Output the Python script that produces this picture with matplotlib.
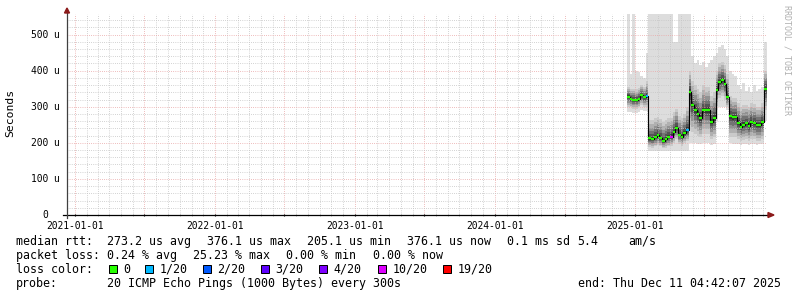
import matplotlib
matplotlib.use("Agg")
import matplotlib.pyplot as plt
import matplotlib.dates as mdates
import matplotlib.ticker as mticker
import matplotlib.transforms as mtransforms
from matplotlib.patches import Polygon, Rectangle
from datetime import datetime, timedelta

# time range of the graph (5 years ending at "end:")
start_time = datetime(2020, 12, 11, 4, 42, 7)
end_time = datetime(2025, 12, 11, 4, 42, 7)

# weekly consolidated samples, values in microseconds
first_sample = datetime(2024, 12, 11)
sample_dates = [first_sample + timedelta(days=7 * k) for k in range(53)]

median_us = [328, 322, 318, 318, 322, 332, 326, 330,
             212, 210, 216, 222, 214, 205, 210, 216, 217, 230, 241, 222, 217, 226, 236,
             342, 305, 291, 280, 268, 291, 291, 292, 258, 268,
             346, 369, 374, 362, 328,
             274, 271, 272, 256, 245, 250, 254, 248, 258, 255, 250, 249, 258, 350, 376]

# lost pings out of 20
loss_pings = [0, 0, 0, 0, 0, 0, 0, 1,
              0, 0, 0, 0, 0, 0, 0, 0, 10, 0, 0, 0, 0, 0, 1,
              0, 0, 0, 0, 0, 0, 0, 0, 0, 0,
              0, 0, 0, 0, 0,
              0, 0, 0, 0, 0, 0, 0, 0, 0, 0, 0, 0, 0, 0, 0]

# outer smoke (slowest / fastest ping)
smoke_hi = [600, 390, 600, 400, 395, 385, 380, 450,
            600, 600, 600, 600, 600, 600, 600, 600, 600, 480, 480, 600, 600, 600, 600,
            600, 440, 420, 430, 415, 425, 410, 420, 430, 440,
            450, 465, 470, 460, 440,
            400, 390, 385, 360, 350, 365, 345, 355, 340, 360, 345, 350, 355, 480, 510]
smoke_lo = [285, 285, 282, 282, 285, 290, 288, 288,
            178, 178, 178, 178, 178, 178, 178, 178, 178, 178, 178, 178, 178, 178, 178,
            200, 200, 200, 198, 196, 200, 200, 200, 195, 198,
            260, 300, 300, 300, 290,
            200, 198, 198, 196, 195, 196, 198, 195, 198, 198, 195, 196, 198, 260, 300]

# dense part of the smoke
band_hi = [355, 350, 350, 348, 352, 360, 356, 370,
           262, 262, 268, 272, 266, 258, 262, 268, 270, 285, 295, 275, 270, 280, 300,
           400, 370, 360, 350, 340, 360, 355, 355, 330, 340,
           400, 420, 425, 415, 390,
           330, 325, 325, 310, 300, 305, 305, 300, 310, 308, 300, 300, 310, 400, 420]
band_lo = [300, 298, 295, 295, 298, 305, 300, 300,
           188, 186, 190, 195, 190, 185, 186, 190, 192, 200, 210, 198, 192, 200, 205,
           250, 230, 225, 220, 215, 225, 225, 225, 210, 215,
           290, 325, 330, 320, 300,
           215, 215, 215, 210, 205, 208, 210, 205, 210, 210, 205, 205, 210, 290, 320]

loss_levels = [0, 1, 2, 3, 4, 10, 19]
loss_labels = ["0", "1/20", "2/20", "3/20", "4/20", "10/20", "19/20"]
loss_colors = ["#26ff00", "#00b8ff", "#0059ff", "#5e00ff", "#7e00ff", "#dd00ff", "#ff0000"]

W, H = 797, 297
mono = "DejaVu Sans Mono"

fig = plt.figure(figsize=(W / 100, H / 100), dpi=100)
ax = fig.add_axes([67 / W, (H - 215) / H, 700 / W, 201 / H])

us = lambda vals: [v * 1e-6 for v in vals]
edges = sample_dates + [end_time]
ext = lambda vals: us(vals + [vals[-1]])

# smoke
ax.fill_between(edges, ext(smoke_lo), ext(smoke_hi), step="post", color="#dddddd", lw=0, zorder=1)
grays = ["#cacaca", "#b0b0b0", "#929292", "#737373", "#555555", "#363636"]
for f, g in zip([1.0, 0.8, 0.6, 0.42, 0.26, 0.12], grays):
    lo = [m - (m - b) * f for m, b in zip(median_us, band_lo)]
    hi = [m + (b - m) * f for m, b in zip(median_us, band_hi)]
    ax.fill_between(edges, ext(lo), ext(hi), step="post", color=g, lw=0, zorder=2)

# median line coloured by loss
ax.step(edges, ext(median_us), where="post", color="black", lw=0.8, zorder=3)
seg_colors = [loss_colors[loss_levels.index(l)] for l in loss_pings]
ax.hlines(us(median_us), sample_dates, edges[1:], colors=seg_colors, lw=1.6, zorder=4)

ax.set_xlim(start_time, end_time)
ax.set_ylim(0, 557e-6)

# grid
ax.xaxis.set_major_locator(mdates.MonthLocator(bymonth=[1, 7]))
ax.xaxis.set_minor_locator(mdates.MonthLocator())
ax.xaxis.set_major_formatter(mticker.FuncFormatter(
    lambda v, p: mdates.num2date(v).strftime("%Y-%m-%d") if mdates.num2date(v).month == 1 else ""))
ax.yaxis.set_major_locator(mticker.MultipleLocator(100e-6))
ax.yaxis.set_minor_locator(mticker.MultipleLocator(20e-6))
ax.grid(which="minor", color="#c6c6c6", lw=0.72, dashes=(0.72, 1.44), zorder=5)
ax.grid(which="major", color="#eaa8a8", lw=0.72, dashes=(0.72, 1.44), zorder=6)
ax.set_axisbelow(False)

for s in ax.spines.values():
    s.set_visible(False)
ax.tick_params(axis="x", which="major", length=2, direction="inout", pad=3.5, labelsize=6.9, colors="black")
ax.tick_params(axis="x", which="minor", length=1.5, direction="inout", color="#a0a0a0")
ax.tick_params(axis="y", which="both", length=0, labelleft=False)
for lbl in ax.get_xticklabels():
    lbl.set_family(mono)

# y labels
ylab_tr = mtransforms.blended_transform_factory(fig.transFigure, ax.transData)
for v in range(0, 501, 100):
    txt = "%d u" % v if v else "0"
    xr = 59.5 if v else 48
    ax.text(xr / W, v * 1e-6, txt, transform=ylab_tr, ha="right", va="center",
            family=mono, fontsize=6.9, clip_on=False)

# axis lines and arrows
pw, ph = 700.0, 201.0
ax.plot([-4 / pw, 1 + 2 / pw], [0, 0], transform=ax.transAxes, color="black", lw=0.9, clip_on=False, zorder=7)
ax.plot([0, 0], [-3 / ph, 1 + 1 / ph], transform=ax.transAxes, color="#404040", lw=0.9, clip_on=False, zorder=7)
ax.add_patch(Polygon([(-2.5 / pw, 1 + 1 / ph), (2.5 / pw, 1 + 1 / ph), (0, 1 + 6 / ph)],
                     transform=ax.transAxes, color="#8b1a1a", clip_on=False, zorder=8))
ax.add_patch(Polygon([(1 + 1 / pw, 2.5 / ph), (1 + 1 / pw, -2.5 / ph), (1 + 7 / pw, 0)],
                     transform=ax.transAxes, color="#8b1a1a", clip_on=False, zorder=8))

fig.text(10.5 / W, 1 - 113 / H, "Seconds", rotation=90, ha="center", va="center",
         family=mono, fontsize=8.2)
fig.text(787 / W, 1 - 60 / H, "RRDTOOL / TOBI OETIKER", rotation=270, ha="center", va="center",
         family=mono, fontsize=6.0, color="#b0b0b0")

# legend
def put(x, y, s, **kw):
    fig.text(x / W, 1 - y / H, s, ha=kw.pop("ha", "left"), va="center", family=mono, fontsize=8.4, **kw)

row1, row2, row3, row4 = 241.5, 255.5, 269.5, 283.5
put(16, row1, "median rtt:")
for x, s in zip([107.3, 207.3, 307.3, 407.3, 507.3, 577.3, 628.3],
                ["273.2 us avg", "376.1 us max", "205.1 us min", "376.1 us now",
                 "0.1 ms sd", "5.4", "am/s"]):
    put(x, row1, s)
put(16, row2, "packet loss:")
for x, s in zip([107.3, 192.7, 286, 372.7],
                ["0.24 % avg", "25.23 % max", "0.00 % min", "0.00 % now"]):
    put(x, row2, s)
put(16, row3, "loss color:")
box_x = [108.5, 145.3, 202.8, 261.2, 319.3, 377.7, 443.3]
for bx, lab, c in zip(box_x, loss_labels, loss_colors):
    fig.patches.append(Rectangle((bx / W, 1 - 273.3 / H), 8 / W, 8 / H, transform=fig.transFigure,
                                 facecolor=c, edgecolor="black", lw=0.72))
    put(bx + 14.5, row3, lab)
put(16, row4, "probe:")
put(107.3, row4, "20 ICMP Echo Pings (1000 Bytes) every 300s")
put(780.5, row4, "end: Thu Dec 11 04:42:07 2025", ha="right")

fig.savefig("out.png", dpi=100)
